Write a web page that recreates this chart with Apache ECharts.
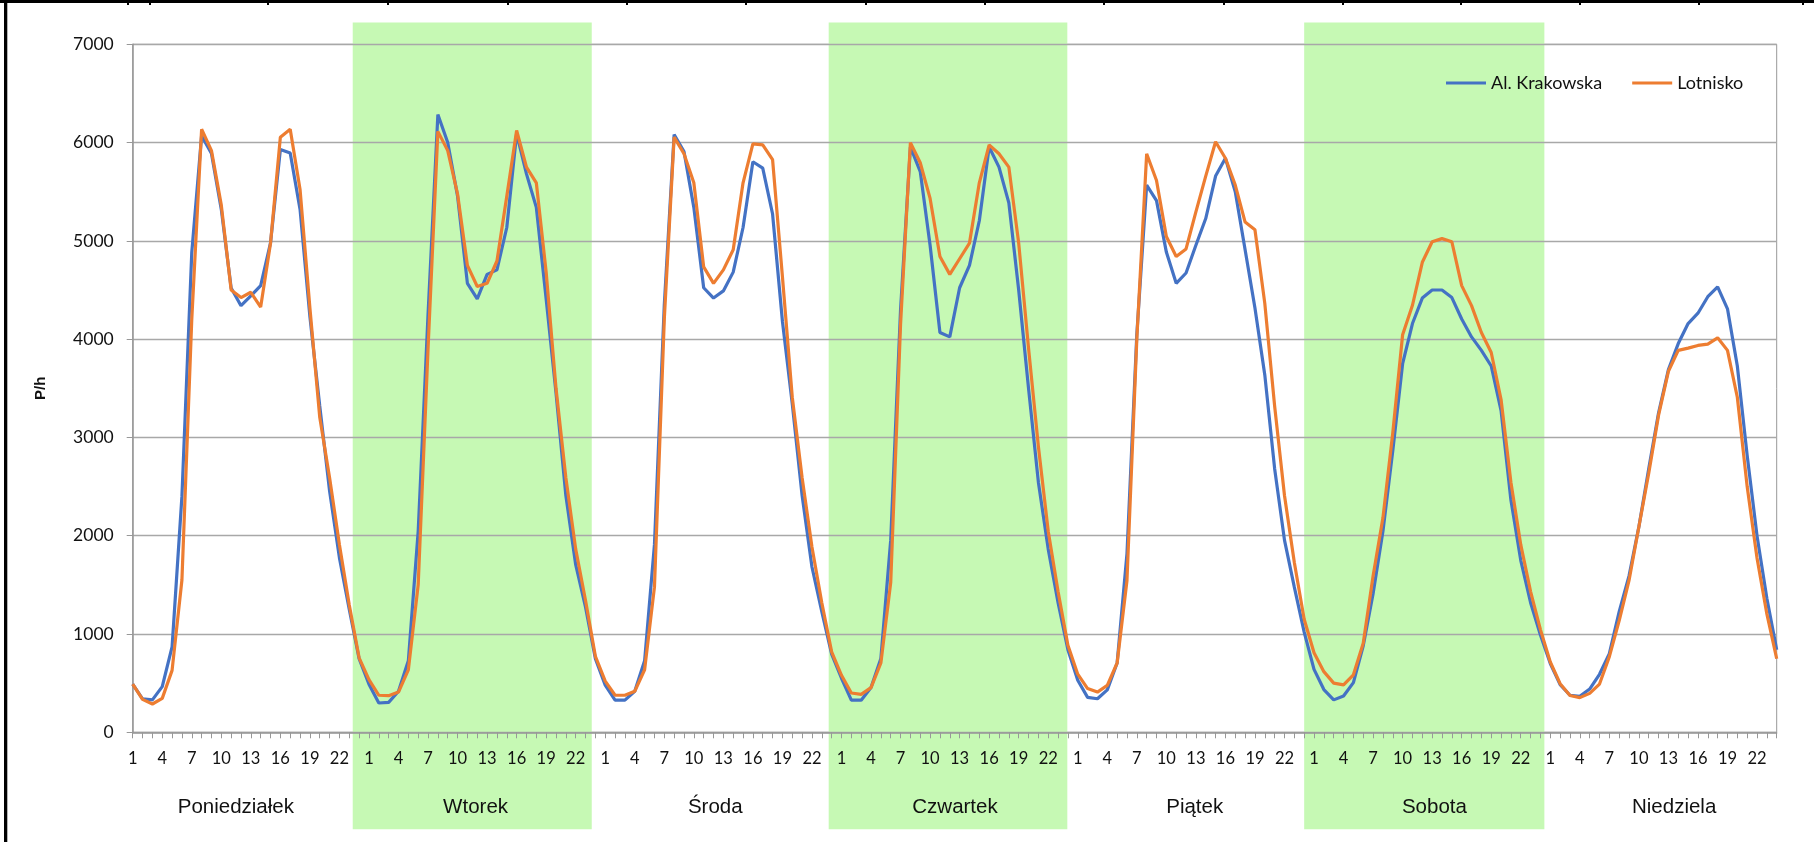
<!DOCTYPE html>
<html>
<head>
<meta charset="utf-8">
<script src="https://cdn.jsdelivr.net/npm/echarts@6/dist/echarts.min.js"></script>
<style>
html,body{margin:0;padding:0;background:#ffffff;}
#chart{width:1814px;height:842px;}
</style>
</head>
<body>
<div id="chart"></div>
<script>
// ---- data ----
const days = ['Poniedziałek', 'Wtorek', 'Środa', 'Czwartek', 'Piątek', 'Sobota', 'Niedziela'];
const hourLabels = ['1','2','3','4','5','6','7','8','9','10','11','12','13','14','15','16','17','18','19','20','21','22','23','24'];
const highlightedDays = ['Wtorek', 'Czwartek', 'Sobota'];
// band extents in hour-index units (as drawn in the original)
const bandRanges = [[22.35, 46.63], [70.7, 94.94], [119.0, 143.4]];

const krakowskaMon = [490, 340, 330, 465, 870, 2400, 4880, 6070, 5890, 5320, 4520, 4340, 4440, 4545, 4980, 5930, 5895, 5320, 4230, 3320, 2455, 1775, 1250, 748];
const krakowskaTue = [490, 298, 305, 418, 727, 2045, 4250, 6286, 6000, 5455, 4568, 4409, 4659, 4705, 5136, 6091, 5682, 5341, 4409, 3455, 2409, 1705, 1273, 750];
const krakowskaWed = [480, 327, 327, 418, 727, 1909, 4350, 6082, 5909, 5341, 4523, 4418, 4491, 4682, 5136, 5805, 5741, 5273, 4182, 3341, 2409, 1682, 1227, 795];
const krakowskaThu = [550, 327, 327, 455, 750, 1955, 4300, 5955, 5705, 4955, 4068, 4023, 4523, 4750, 5205, 5955, 5750, 5386, 4500, 3500, 2545, 1864, 1318, 841];
const krakowskaFri = [530, 355, 341, 432, 705, 1818, 4050, 5568, 5409, 4886, 4568, 4673, 4955, 5227, 5659, 5841, 5500, 4909, 4318, 3636, 2682, 1955, 1477, 1020];
const krakowskaSat = [640, 435, 330, 370, 505, 880, 1409, 2045, 2864, 3750, 4159, 4418, 4500, 4500, 4423, 4205, 4023, 3886, 3727, 3273, 2364, 1750, 1318, 990];
const krakowskaSun = [700, 485, 377, 367, 440, 590, 800, 1227, 1591, 2091, 2682, 3250, 3691, 3955, 4159, 4264, 4432, 4532, 4309, 3727, 2818, 2000, 1364, 840];

const lotniskoMon = [490, 335, 288, 345, 630, 1550, 4200, 6136, 5918, 5364, 4500, 4423, 4477, 4327, 4977, 6055, 6136, 5523, 4318, 3205, 2591, 1909, 1295, 758];
const lotniskoTue = [535, 377, 373, 409, 636, 1500, 3900, 6114, 5918, 5477, 4750, 4536, 4568, 4795, 5455, 6123, 5750, 5591, 4682, 3500, 2591, 1864, 1341, 773];
const lotniskoWed = [520, 377, 377, 418, 636, 1477, 4200, 6055, 5886, 5591, 4736, 4568, 4705, 4909, 5591, 5986, 5977, 5827, 4636, 3409, 2591, 1886, 1318, 818];
const lotniskoThu = [580, 400, 386, 455, 705, 1523, 4150, 6000, 5795, 5432, 4841, 4659, 4818, 4977, 5591, 5977, 5886, 5750, 4977, 3909, 2909, 2045, 1432, 886];
const lotniskoFri = [591, 445, 409, 477, 705, 1545, 4000, 5886, 5614, 5045, 4841, 4918, 5295, 5659, 6009, 5841, 5568, 5191, 5114, 4364, 3318, 2409, 1727, 1150];
const lotniskoSat = [810, 617, 500, 483, 585, 905, 1591, 2182, 3045, 4045, 4345, 4782, 4991, 5023, 4991, 4545, 4341, 4068, 3864, 3386, 2545, 1909, 1432, 1045];
const lotniskoSun = [715, 495, 374, 353, 396, 491, 770, 1136, 1545, 2091, 2636, 3227, 3673, 3886, 3909, 3936, 3950, 4014, 3886, 3409, 2500, 1773, 1205, 748];

const yMin = 0, yMax = 7000, yStep = 1000;

// ---- build ----
const krakowska = [].concat(krakowskaMon, krakowskaTue, krakowskaWed, krakowskaThu, krakowskaFri, krakowskaSat, krakowskaSun);
const lotnisko = [].concat(lotniskoMon, lotniskoTue, lotniskoWed, lotniskoThu, lotniskoFri, lotniskoSat, lotniskoSun);
const categories = [];
days.forEach(() => hourLabels.forEach(h => categories.push(h)));
const lastIndex = categories.length - 1;

const gridL = 132.7, gridR = 37.3, gridT = 44.3, gridB = 109.7;
const axisGray = '#989898';
const txt = '#111111';

const frameTicks = [128, 150, 268, 388, 508, 627, 746, 866, 985, 1104, 1224, 1343, 1461, 1580, 1699, 1803];
const graphics = [
  {type: 'rect', shape: {x: 0, y: 0, width: 1814, height: 3}, style: {fill: '#000'}, z: 100},
  {type: 'rect', shape: {x: 4, y: 0, width: 3.3, height: 842}, style: {fill: '#000'}, z: 100}
].concat(frameTicks.map(x => ({type: 'rect', shape: {x: x - 1, y: 0, width: 2, height: 5}, style: {fill: '#000'}, z: 100})));

const chart = echarts.init(document.getElementById('chart'), null, {renderer: 'canvas'});
chart.setOption({
  animation: false,
  backgroundColor: '#ffffff',
  graphic: graphics,
  legend: {
    data: ['Al. Krakowska', 'Lotnisko'],
    left: 1441, top: 69,
    itemWidth: 40, itemHeight: 14, itemGap: 30,
    textStyle: {fontFamily: 'Lato', fontSize: 18, color: txt},
    icon: 'path://M0,5.5 L40,5.5 L40,8.5 L0,8.5 Z'
  },
  grid: [
    {left: gridL, right: gridR, top: gridT, bottom: gridB, show: true, borderColor: axisGray, borderWidth: 1, backgroundColor: 'transparent', outerBoundsMode: 'none', containLabel: false},
    {left: gridL, right: gridR, top: 22.5, bottom: 12.7, outerBoundsMode: 'none', containLabel: false},
    {left: 116, right: 20, top: gridT, bottom: gridB, outerBoundsMode: 'none', containLabel: false}
  ],
  xAxis: [
    {
      type: 'category', gridIndex: 0, data: categories, boundaryGap: false, z: 2,
      axisLine: {lineStyle: {color: axisGray, width: 1.5}},
      axisTick: {show: true, interval: 0, length: 6, inside: false, lineStyle: {color: axisGray}},
      axisLabel: {interval: (i) => i % 3 === 0, margin: 18, fontFamily: 'Lato', fontSize: 16.5, color: txt, hideOverlap: false},
      splitLine: {show: false}
    },
    {type: 'value', gridIndex: 1, min: 0, max: lastIndex, show: false},
    {
      type: 'category', gridIndex: 2, data: days, boundaryGap: true, z: 2,
      axisLine: {show: false}, axisTick: {show: false}, splitLine: {show: false},
      axisLabel: {interval: 0, margin: 65, fontFamily: 'Liberation Sans', fontSize: 20.5, color: '#111'}
    }
  ],
  yAxis: [
    {
      type: 'value', gridIndex: 0, min: yMin, max: yMax, interval: yStep, z: 2,
      name: 'P/h', nameLocation: 'middle', nameGap: 84, nameRotate: 90,
      nameTextStyle: {fontFamily: 'Liberation Sans', fontWeight: 'bold', fontSize: 15, color: txt},
      axisLine: {show: true, lineStyle: {color: axisGray, width: 1.5}},
      axisTick: {show: true, length: 6, lineStyle: {color: axisGray}},
      axisLabel: {margin: 19, fontFamily: 'Lato', fontSize: 17.5, color: txt, formatter: (v) => String(v)},
      splitLine: {show: true, lineStyle: {color: '#a8a8a8', width: 1.3}}
    },
    {type: 'value', gridIndex: 1, min: 0, max: 1, show: false},
    {type: 'value', gridIndex: 2, min: 0, max: 1, show: false}
  ],
  series: [
    {
      type: 'line', name: 'bands', xAxisIndex: 1, yAxisIndex: 1, data: [], silent: true, z: 0,
      markArea: {
        silent: true,
        itemStyle: {color: '#c6f9b4'},
        data: bandRanges.map(r => [{xAxis: r[0], yAxis: 0}, {xAxis: r[1], yAxis: 1}])
      }
    },
    {
      type: 'line', name: 'Al. Krakowska', data: krakowska, xAxisIndex: 0, yAxisIndex: 0,
      symbol: 'none', smooth: false, z: 3,
      lineStyle: {color: '#4472C4', width: 3.2}, itemStyle: {color: '#4472C4'}
    },
    {
      type: 'line', name: 'Lotnisko', data: lotnisko, xAxisIndex: 0, yAxisIndex: 0,
      symbol: 'none', smooth: false, z: 4,
      lineStyle: {color: '#ED7D31', width: 3.2}, itemStyle: {color: '#ED7D31'}
    }
  ]
});
</script>
</body>
</html>
